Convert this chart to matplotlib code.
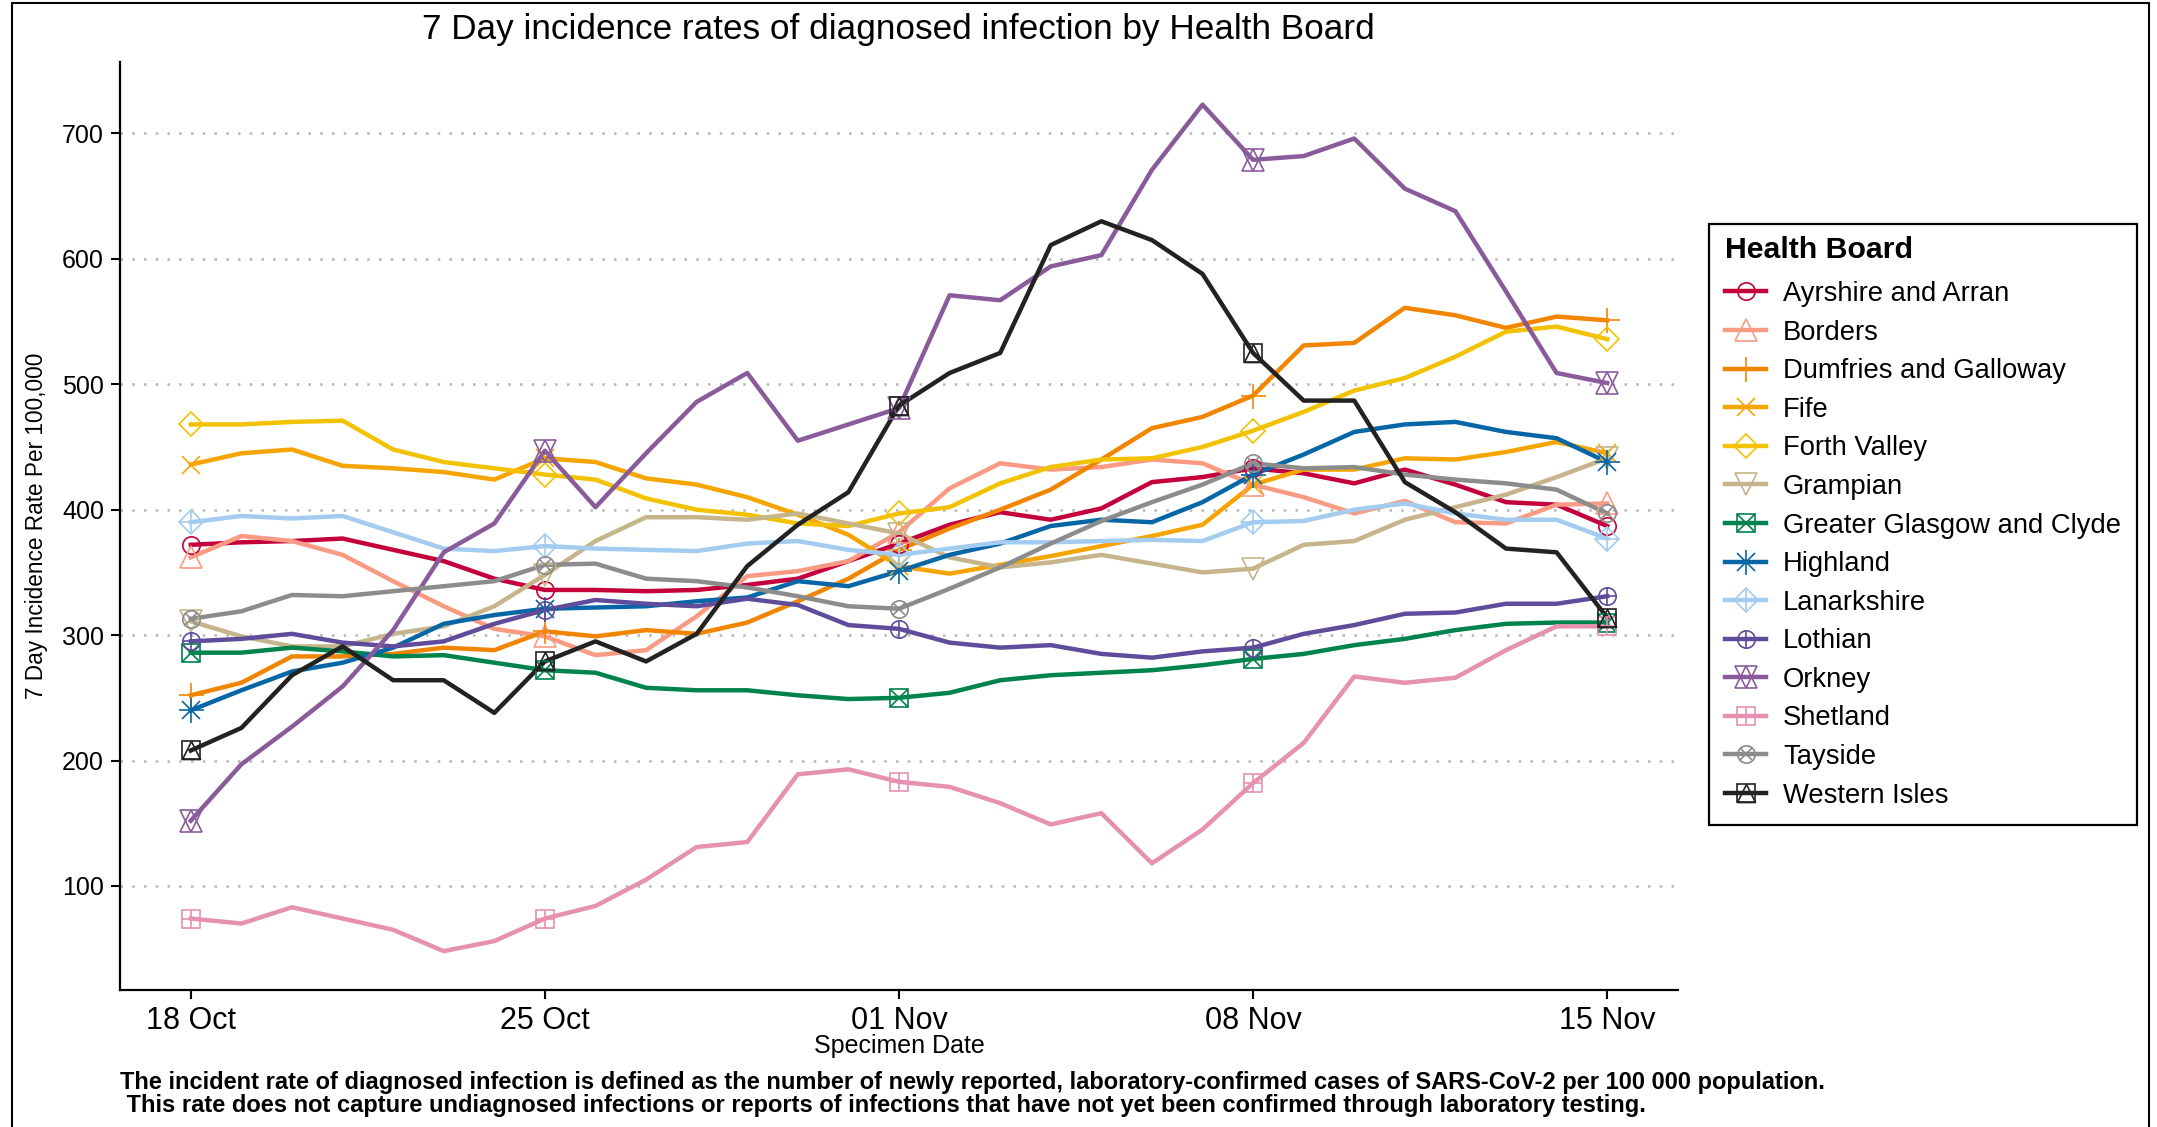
import matplotlib.pyplot as plt
from matplotlib.lines import Line2D
from matplotlib.legend_handler import HandlerTuple
from matplotlib.patches import Rectangle
from matplotlib.path import Path
import pandas as pd

plt.rcParams['font.family'] = ['Liberation Sans', 'DejaVu Sans']

# daily dates, 18 Oct to 15 Nov 2020
dates = pd.date_range('2020-10-18', '2020-11-15', freq='D')
tick_labels = ['18 Oct', '25 Oct', '01 Nov', '08 Nov', '15 Nov']

boards = ['Ayrshire and Arran', 'Borders', 'Dumfries and Galloway', 'Fife',
          'Forth Valley', 'Grampian', 'Greater Glasgow and Clyde', 'Highland',
          'Lanarkshire', 'Lothian', 'Orkney', 'Shetland', 'Tayside', 'Western Isles']

ayrshire = [372, 374, 375, 377, 368, 359, 345, 336, 336, 335, 336, 340, 345, 359, 373,
            388, 398, 392, 401, 422, 426, 433, 429, 421, 432, 420, 406, 404, 387]
borders = [362, 379, 375, 364, 343, 323, 305, 299, 284, 288, 315, 347, 351, 359, 382,
           417, 437, 432, 434, 440, 437, 420, 410, 397, 407, 390, 389, 404, 405]
dumfries = [252, 262, 283, 283, 285, 290, 288, 303, 299, 304, 301, 310, 327, 345, 368,
            385, 400, 416, 440, 465, 474, 491, 531, 533, 561, 555, 545, 554, 551]
fife = [436, 445, 448, 435, 433, 430, 424, 441, 438, 425, 420, 410, 396, 380, 355,
        349, 356, 363, 371, 379, 388, 420, 432, 432, 441, 440, 446, 454, 445]
forth_valley = [468, 468, 470, 471, 448, 438, 433, 428, 424, 409, 400, 396, 389, 387, 397,
                402, 421, 434, 440, 441, 450, 463, 478, 495, 505, 522, 542, 546, 536]
grampian = [311, 299, 291, 291, 301, 307, 323, 348, 375, 394, 394, 392, 397, 389, 381,
            362, 354, 358, 364, 357, 350, 353, 372, 375, 392, 402, 412, 426, 441]
glasgow = [286, 286, 290, 287, 283, 284, 278, 272, 270, 258, 256, 256, 252, 249, 250,
           254, 264, 268, 270, 272, 276, 281, 285, 292, 297, 304, 309, 310, 310]
highland = [240, 256, 271, 278, 290, 309, 316, 321, 322, 323, 327, 330, 343, 339, 351,
            364, 373, 387, 392, 390, 406, 428, 444, 462, 468, 470, 462, 457, 438]
lanarkshire = [390, 395, 393, 395, 382, 369, 367, 371, 369, 368, 367, 373, 375, 368, 364,
               369, 374, 374, 375, 376, 375, 390, 391, 400, 405, 397, 392, 392, 377]
lothian = [295, 297, 301, 294, 291, 295, 309, 320, 328, 325, 323, 329, 324, 308, 305,
           294, 290, 292, 285, 282, 287, 290, 301, 308, 317, 318, 325, 325, 331]
orkney = [152, 197, 227, 259, 304, 366, 389, 447, 402, 445, 486, 509, 455, 468, 481,
          571, 567, 594, 603, 671, 723, 679, 682, 696, 656, 638, 574, 509, 501]
shetland = [74, 70, 83, 74, 65, 48, 56, 74, 84, 105, 131, 135, 189, 193, 183,
            179, 166, 149, 158, 118, 145, 182, 214, 267, 262, 266, 288, 307, 307]
tayside = [313, 319, 332, 331, 335, 339, 343, 356, 357, 345, 343, 338, 331, 323, 321,
           337, 354, 373, 391, 406, 420, 437, 433, 434, 428, 424, 421, 416, 397]
western_isles = [208, 226, 268, 291, 264, 264, 238, 279, 295, 279, 301, 355, 388, 414, 483,
                 509, 525, 611, 630, 615, 588, 525, 487, 487, 422, 398, 369, 366, 314]

series = [ayrshire, borders, dumfries, fife, forth_valley, grampian, glasgow, highland,
          lanarkshire, lothian, orkney, shetland, tayside, western_isles]

colors = ['#c4003c', '#f99a82', '#f28500', '#f6a500', '#f2c200', '#c6b58b', '#00834c',
          '#0767a6', '#a3ccf0', '#5f4c9b', '#8a5b9b', '#e691b0', '#8c8c8c', '#222222']

# triangle inside a square (ggplot shape 14)
tri = Path([(-1, -1), (0, 1), (1, -1), (-1, -1)], [Path.MOVETO, Path.LINETO, Path.LINETO, Path.CLOSEPOLY])

# ggplot shapes 1-14 built from overlaid matplotlib markers
shapes = [
    [('o', 12.5)],
    [('^', 16)],
    [('+', 18)],
    [('x', 13.5)],
    [('D', 12.5)],
    [('v', 16)],
    [('s', 13), ('x', 13)],
    [('+', 18), ('x', 13)],
    [('D', 12.5), ('+', 17.5)],
    [('o', 12.5), ('+', 12.5)],
    [('^', 16), ('v', 16)],
    [('s', 13), ('+', 13)],
    [('o', 12.5), ('x', 9)],
    [('s', 13), (tri, 13)],
]

fig = plt.figure(figsize=(21.57, 11.27), dpi=100)
ax = fig.add_axes([120 / 2157, 1 - 990 / 1127, (1678 - 120) / 2157, (990 - 62) / 1127])

lw = 3.2
for vals, c in zip(series, colors):
    ax.plot(dates, vals, color=c, lw=lw, zorder=3)

handles = []
for vals, c, shp in zip(series, colors, shapes):
    parts = [Line2D([], [], color=c, lw=lw)]
    for m, ms in shp:
        ax.plot(dates[::7], vals[::7], ls='none', marker=m, ms=ms, mfc='none',
                mec=c, mew=1.2, zorder=4)
        parts.append(Line2D([], [], ls='none', marker=m, ms=ms, mfc='none', mec=c, mew=1.2))
    handles.append(tuple(parts))

ax.set_ylim(17, 757)
ax.set_yticks([100, 200, 300, 400, 500, 600, 700])
ax.set_xlim(dates[0] - pd.Timedelta(days=1.4), dates[-1] + pd.Timedelta(days=1.4))
ax.set_xticks(dates[::7])
ax.set_xticklabels(tick_labels)

ax.yaxis.grid(True, color='#b5b5b5', linestyle=(0, (1, 3.7)), lw=1.8)
ax.xaxis.grid(False)
ax.set_axisbelow(True)

for s in ['top', 'right']:
    ax.spines[s].set_visible(False)
for s in ['left', 'bottom']:
    ax.spines[s].set_linewidth(1.6)
    ax.spines[s].set_color('black')
ax.tick_params(axis='both', length=6.5, width=1.5, color='black', pad=5)
ax.tick_params(axis='y', labelsize=18)
ax.tick_params(axis='x', labelsize=22)

fig.text(898 / 2157, 1 - 29 / 1127, '7 Day incidence rates of diagnosed infection by Health Board',
         ha='center', va='center', size=25.3)
fig.text(37 / 2157, 1 - 526 / 1127, '7 Day Incidence Rate Per 100,000',
         ha='center', va='center', rotation=90, size=16.3)
fig.text(899 / 2157, 1 - 1046 / 1127, 'Specimen Date', ha='center', va='center', size=18)
fig.text(120 / 2157, 1 - 1094 / 1127,
         'The incident rate of diagnosed infection is defined as the number of newly reported, '
         'laboratory-confirmed cases of SARS-CoV-2 per 100 000 population.\n'
         ' This rate does not capture undiagnosed infections or reports of infections that have '
         'not yet been confirmed through laboratory testing.',
         ha='left', va='center', weight='bold', size=17, linespacing=1.0)

leg = fig.legend(handles, boards, loc='upper left', bbox_to_anchor=(1709 / 2157, 1 - 224 / 1127),
                 borderaxespad=0, fontsize=19.7, title='Health Board',
                 title_fontproperties={'weight': 'bold', 'size': 21.8},
                 alignment='left', handler_map={tuple: HandlerTuple(ndivide=1, pad=0)},
                 handlelength=1.5, handletextpad=0.6, labelspacing=0.46, borderpad=0.6,
                 fancybox=False, edgecolor='black', framealpha=1)
leg.get_frame().set_linewidth(1.6)
leg.get_title().set_y(4)

# outer border of the figure
fig.add_artist(Rectangle((12 / 2157, -0.05), (2149 - 12) / 2157, 1.05 - 3 / 1127,
                         transform=fig.transFigure, fill=False, ec='black', lw=1.5))

fig.savefig('out.png', dpi=100)
